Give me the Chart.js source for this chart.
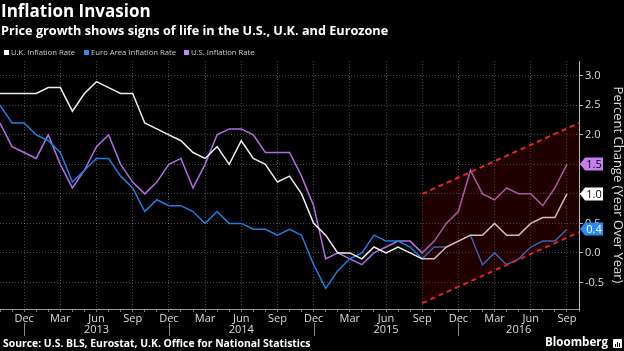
<!DOCTYPE html>
<html>
<head>
<meta charset="utf-8">
<script src="https://cdn.jsdelivr.net/npm/chart.js@4.4.1/dist/chart.umd.min.js"></script>
<style>
  html, body { margin: 0; padding: 0; background: #000; }
  #wrap { position: relative; width: 624px; height: 351px; overflow: hidden; font-family: 'Open Sans', sans-serif; color: #fff; }
  #salesChart { position: absolute; left: 0; top: 0; }
  .title { position: absolute; left: 1px; top: 0px; font-size: 17px; font-weight: 700; line-height: 22px; white-space: nowrap; }
  .subtitle { position: absolute; left: 1px; top: 21px; font-size: 12.7px; font-weight: 700; line-height: 18px; white-space: nowrap; }
  .legend-item { position: absolute; top: 46px; font-size: 7.7px; line-height: 12px; color: #ccc; white-space: nowrap; }
  .legend-item i { display: inline-block; width: 5px; height: 5px; margin-right: 2px; vertical-align: 0px; }
  .source { position: absolute; left: 3px; top: 337px; font-size: 10.4px; font-weight: 700; line-height: 13px; white-space: nowrap; }
  .brand { position: absolute; left: 545px; top: 333px; font-size: 11.6px; font-weight: 700; line-height: 17px; }
  .brand-icon { position: absolute; left: 613px; top: 339px; width: 9px; height: 9px; background: #fff; border-radius: 1px; }
  .brand-icon b { position: absolute; bottom: 1px; width: 1px; background: #000; }
</style>
</head>
<body>
<div id="wrap">
  <canvas id="salesChart" width="624" height="351"></canvas>
  <div class="title">Inflation Invasion</div>
  <div class="subtitle">Price growth shows signs of life in the U.S., U.K. and Eurozone</div>
  <div class="legend-item" style="left:4px"><i style="background:#ffffff"></i>U.K. Inflation Rate</div>
  <div class="legend-item" style="left:84px"><i style="background:#2a8cf2"></i>Euro Area Inflation Rate</div>
  <div class="legend-item" style="left:184px"><i style="background:#c983f2"></i>U.S. Inflation Rate</div>
  <div class="source">Source: U.S. BLS, Eurostat, U.K. Office for National Statistics</div>
  <div class="brand">Bloomberg</div>
  <div class="brand-icon"><b style="left:2px;height:3px"></b><b style="left:4px;height:5px"></b><b style="left:6px;height:4px"></b></div>
</div>
<script>
// ── Data ─────────────────────────────────────
const months = [
  'Oct 2012', 'Nov 2012', 'Dec 2012',
  'Jan 2013', 'Feb 2013', 'Mar 2013', 'Apr 2013', 'May 2013', 'Jun 2013',
  'Jul 2013', 'Aug 2013', 'Sep 2013', 'Oct 2013', 'Nov 2013', 'Dec 2013',
  'Jan 2014', 'Feb 2014', 'Mar 2014', 'Apr 2014', 'May 2014', 'Jun 2014',
  'Jul 2014', 'Aug 2014', 'Sep 2014', 'Oct 2014', 'Nov 2014', 'Dec 2014',
  'Jan 2015', 'Feb 2015', 'Mar 2015', 'Apr 2015', 'May 2015', 'Jun 2015',
  'Jul 2015', 'Aug 2015', 'Sep 2015', 'Oct 2015', 'Nov 2015', 'Dec 2015',
  'Jan 2016', 'Feb 2016', 'Mar 2016', 'Apr 2016', 'May 2016', 'Jun 2016',
  'Jul 2016', 'Aug 2016', 'Sep 2016', 'Oct 2016'
];

const ukRate = [2.7, 2.7, 2.7,
  2.7, 2.8, 2.8, 2.4, 2.7, 2.9, 2.8, 2.7, 2.7, 2.2, 2.1, 2.0,
  1.9, 1.7, 1.6, 1.8, 1.5, 1.9, 1.6, 1.5, 1.2, 1.3, 1.0, 0.5,
  0.3, 0.0, 0.0, -0.1, 0.1, 0.0, 0.1, 0.0, -0.1, -0.1, 0.1, 0.2,
  0.3, 0.3, 0.5, 0.3, 0.3, 0.5, 0.6, 0.6, 1.0];

const euroRate = [2.5, 2.2, 2.2,
  2.0, 1.9, 1.7, 1.2, 1.4, 1.6, 1.6, 1.3, 1.1, 0.7, 0.9, 0.8,
  0.8, 0.7, 0.5, 0.7, 0.5, 0.5, 0.4, 0.4, 0.3, 0.4, 0.3, -0.2,
  -0.6, -0.3, -0.1, 0.0, 0.3, 0.2, 0.2, 0.1, -0.1, 0.1, 0.1, 0.2,
  0.3, -0.2, 0.0, -0.2, -0.1, 0.1, 0.2, 0.2, 0.4];

const usRate = [2.2, 1.8, 1.7,
  1.6, 2.0, 1.5, 1.1, 1.4, 1.8, 2.0, 1.5, 1.2, 1.0, 1.2, 1.5,
  1.6, 1.1, 1.5, 2.0, 2.1, 2.1, 2.0, 1.7, 1.7, 1.7, 1.3, 0.8,
  -0.1, 0.0, -0.1, -0.2, 0.0, 0.1, 0.2, 0.2, 0.0, 0.2, 0.5, 0.7,
  1.4, 1.0, 0.9, 1.1, 1.0, 1.0, 0.8, 1.1, 1.5];

// trend channel drawn from Sep 2015
const channelX = ['Sep 2015', 'Oct 2016'];
const channelUpper = [1.0, 2.2];
const channelLower = [-0.85, 0.35];

const yTicks = [-0.5, 0.0, 0.5, 1.0, 1.5, 2.0, 2.5, 3.0];
const quarterMonths = ['Dec', 'Mar', 'Jun', 'Sep'];
const years = ['2013', '2014', '2015', '2016'];
const yearLabelAt = ['Jun 2013', 'Jun 2014', 'Jun 2015', 'May 2016'];
const yearBreaks = ['Dec 2012', 'Dec 2013', 'Dec 2014', 'Dec 2015'];

const series = [
  { label: 'U.K. Inflation Rate', values: ukRate, color: '#ededed', tag: '#ffffff', tagText: '#000' },
  { label: 'Euro Area Inflation Rate', values: euroRate, color: '#1f7fe0', tag: '#2a8cf2', tagText: '#fff' },
  { label: 'U.S. Inflation Rate', values: usRate, color: '#b26ee6', tag: '#c77ff0', tagText: '#000' }
];

const FONT = 'Open Sans';

// ── Plugins ──────────────────────────────────
const lastValueTags = {
  id: 'lastValueTags',
  afterDraw(chart) {
    const { ctx, chartArea, scales: { y } } = chart;
    ctx.save();
    ctx.font = '11px "' + FONT + '"';
    ctx.textAlign = 'center';
    ctx.textBaseline = 'middle';
    series.forEach(s => {
      const v = s.values[s.values.length - 1];
      const py = Math.round(y.getPixelForValue(v));
      const x0 = chartArea.right + 1, w = 23, h = 13, tip = 5;
      ctx.fillStyle = s.tag;
      ctx.beginPath();
      ctx.moveTo(x0, py);
      ctx.lineTo(x0 + tip, py - h / 2);
      ctx.lineTo(x0 + w, py - h / 2);
      ctx.lineTo(x0 + w, py + h / 2);
      ctx.lineTo(x0 + tip, py + h / 2);
      ctx.closePath();
      ctx.fill();
      ctx.fillStyle = s.tagText;
      ctx.fillText(v.toFixed(1), x0 + tip + (w - tip) / 2, py + 0.5);
    });
    ctx.restore();
  }
};

const yearAxis = {
  id: 'yearAxis',
  afterDraw(chart) {
    const { ctx, scales: { x } } = chart;
    ctx.save();
    ctx.strokeStyle = '#8a8a8a';
    ctx.lineWidth = 1;
    yearBreaks.forEach(m => {
      const px = Math.round(x.getPixelForValue(months.indexOf(m))) + 0.5;
      ctx.beginPath();
      ctx.moveTo(px, x.top + 14);
      ctx.lineTo(px, x.top + 27);
      ctx.stroke();
    });
    ctx.fillStyle = '#dddddd';
    ctx.font = '11px "' + FONT + '"';
    ctx.textAlign = 'center';
    ctx.textBaseline = 'middle';
    years.forEach((yr, i) => {
      ctx.fillText(yr, x.getPixelForValue(months.indexOf(yearLabelAt[i])), x.top + 21);
    });
    ctx.restore();
  }
};

// ── Chart setup ──────────────────────────────
const ctx = document.getElementById('salesChart');

const lineSets = series.map(s => ({
  label: s.label,
  data: s.values,
  borderColor: s.color,
  borderWidth: 1.5,
  pointRadius: 0,
  tension: 0,
  fill: false,
  order: 1
}));

const channelSets = [
  {
    label: 'upper',
    data: channelX.map((m, i) => ({ x: m, y: channelUpper[i] })),
    borderColor: '#e8262a',
    borderWidth: 2,
    borderDash: [5, 4],
    pointRadius: 0,
    fill: '+1',
    backgroundColor: 'rgba(150, 0, 0, 0.22)',
    order: -1
  },
  {
    label: 'lower',
    data: channelX.map((m, i) => ({ x: m, y: channelLower[i] })),
    borderColor: '#e8262a',
    borderWidth: 2,
    borderDash: [5, 4],
    pointRadius: 0,
    fill: false,
    order: -1
  }
];

new Chart(ctx, {
  type: 'line',
  data: { labels: months, datasets: lineSets.concat(channelSets) },
  options: {
    responsive: false,
    animation: false,
    devicePixelRatio: 1,
    layout: { padding: { top: 61, bottom: 20, left: 0, right: 0 } },
    plugins: {
      legend: { display: false },
      tooltip: { enabled: false }
    },
    scales: {
      x: {
        type: 'category',
        offset: false,
        grid: {
          color: c => (c.tick && quarterMonths.includes(months[c.index].slice(0, 3))) ? 'rgba(255,255,255,0.28)' : 'transparent',
          tickColor: '#777',
          tickLength: 3,
          drawTicks: true
        },
        border: { display: true, color: '#9a9a9a', width: 1, dash: [1, 2] },
        ticks: {
          autoSkip: false,
          maxRotation: 0,
          padding: 0,
          color: '#dddddd',
          font: { family: FONT, size: 11 },
          callback: function (val, i) {
            const m = months[i].slice(0, 3);
            return quarterMonths.includes(m) ? m : '';
          }
        },
        afterFit: s => { s.height = 22; }
      },
      y: {
        position: 'right',
        min: -0.95,
        max: 3.25,
        afterBuildTicks: s => { s.ticks = yTicks.map(v => ({ value: v })); },
        grid: {
          color: 'rgba(255,255,255,0.28)',
          tickColor: '#bbbbbb',
          tickLength: 4
        },
        border: { display: true, color: '#bbbbbb', width: 1, dash: [1, 2] },
        ticks: {
          padding: 2,
          color: '#dddddd',
          font: { family: FONT, size: 11 },
          callback: v => v.toFixed(1)
        },
        title: {
          display: true,
          text: 'Percent Change (Year Over Year)',
          color: '#dddddd',
          font: { family: FONT, size: 13, lineHeight: 1 },
          padding: 0
        },
        afterFit: s => { s.width = 45; }
      }
    }
  },
  plugins: [lastValueTags, yearAxis]
});
</script>
</body>
</html>
